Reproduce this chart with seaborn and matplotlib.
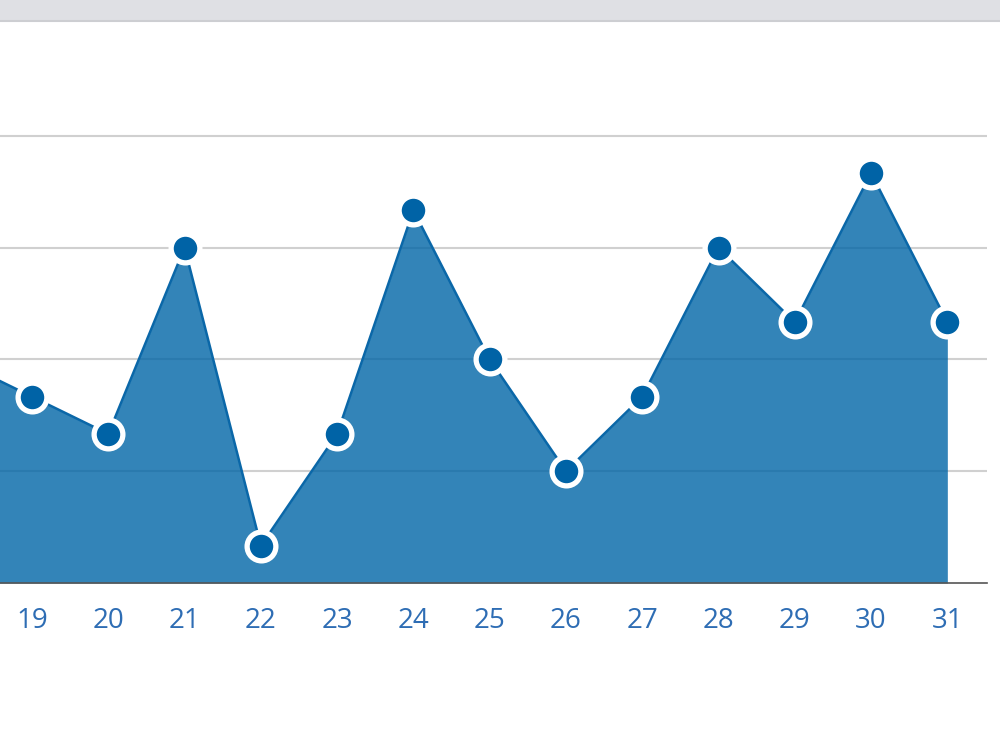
import matplotlib
matplotlib.use("Agg")
import matplotlib.pyplot as plt
import seaborn as sns
import pandas as pd
from matplotlib.patches import Rectangle
from matplotlib.lines import Line2D

# values (grid step = 3)
days = [18, 19, 20, 21, 22, 23, 24, 25, 26, 27, 28, 29, 30, 31]
values = [6, 5, 4, 9, 1, 4, 10, 6, 3, 5, 9, 7, 11, 7]
grid_levels = [3, 6, 9, 12]

df = pd.DataFrame({"day": days, "value": values})

sns.set_theme(style="white")
plt.rcParams["font.family"] = ["Open Sans", "DejaVu Sans"]

fig = plt.figure(figsize=(10, 7.5), dpi=100)
ax = fig.add_axes([0, 1 - 583 / 750, 0.987, 563 / 750])

ax.fill_between(df["day"], 0, df["value"], color="#0065a6", alpha=0.8,
                linewidth=0, zorder=2)
sns.lineplot(data=df, x="day", y="value", ax=ax, color="#0a67a8",
             linewidth=1.8, marker="o", markersize=20.7,
             markerfacecolor="#0063a6", markeredgecolor="white",
             markeredgewidth=3.8, zorder=3, clip_on=False)

ax.set_xlim(18.58, 31.52)
ax.set_ylim(0, 15.11)
ax.set_yticks(grid_levels)
ax.set_yticklabels([])
ax.set_xticks(days[1:])
ax.set_xticklabels([str(d) for d in days[1:]])
ax.yaxis.grid(True, color="#d0d0d0", linewidth=1.5, zorder=1)
ax.xaxis.grid(False)
ax.set_axisbelow(True)
for side in ["left", "right", "top"]:
    ax.spines[side].set_visible(False)
ax.spines["bottom"].set_color("#555555")
ax.spines["bottom"].set_linewidth(1.2)
ax.tick_params(axis="x", length=0, pad=17.5, labelsize=20, labelcolor="#2e6db4")
ax.tick_params(axis="y", length=0)
ax.set_xlabel("")
ax.set_ylabel("")

# grey bar along the top
fig.patches.append(Rectangle((0, 730 / 750), 1, 20 / 750, transform=fig.transFigure,
                             facecolor="#dfe0e4", edgecolor="none", zorder=5))
fig.lines.append(Line2D([0, 1], [729.5 / 750, 729.5 / 750], transform=fig.transFigure,
                        color="#cdced2", linewidth=1.5, zorder=6))

fig.savefig("out.png", dpi=100)
